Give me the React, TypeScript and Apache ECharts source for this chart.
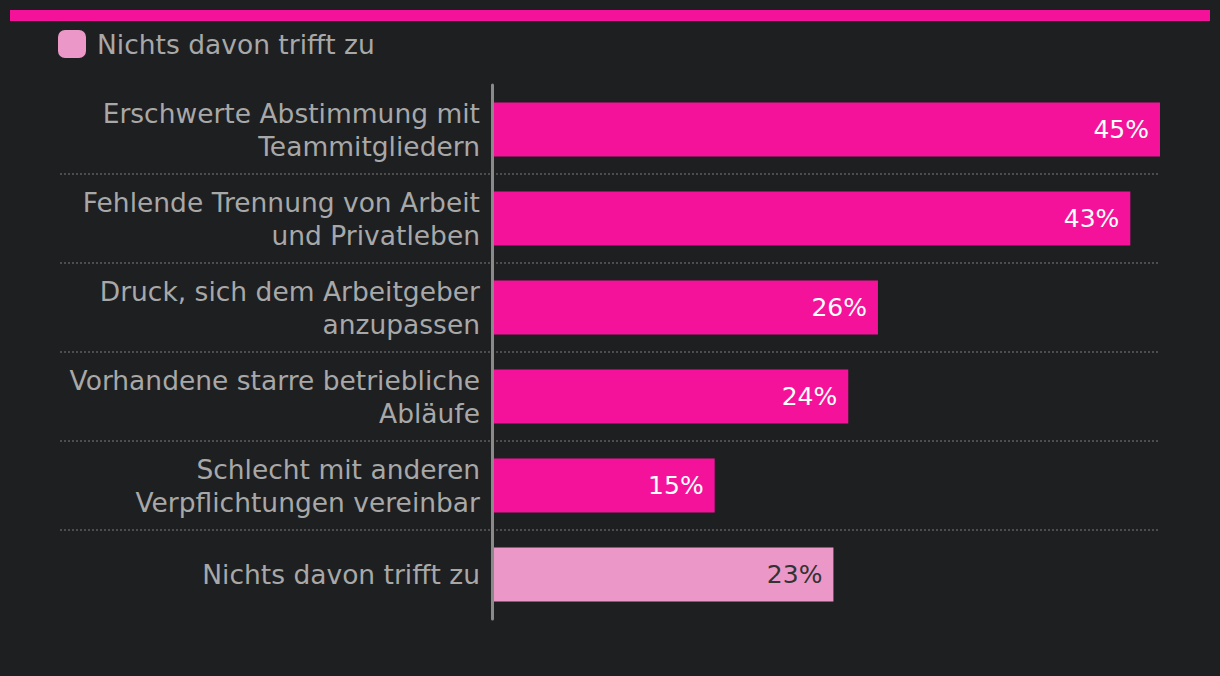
import React, { useEffect, useRef } from "react";
import * as echarts from "echarts";

const categories = [
  "Erschwerte Abstimmung mit\nTeammitgliedern",
  "Fehlende Trennung von Arbeit\nund Privatleben",
  "Druck, sich dem Arbeitgeber\nanzupassen",
  "Vorhandene starre betriebliche\nAbläufe",
  "Schlecht mit anderen\nVerpflichtungen vereinbar",
  "Nichts davon trifft zu",
];
const mainValues: (number | string)[] = [45, 43, 26, 24, 15, "-"];
const noneValues: (number | string)[] = ["-", "-", "-", "-", "-", 23];
const noneName = "Nichts davon trifft zu";
// boundaries between consecutive categories (for the dotted dividers)
const dividers = ["1", "2", "3", "4", "5"];

const FONT = "'DejaVu Sans', 'Noto Sans', sans-serif";
const PINK = "#f5129a";
const LIGHT = "#eb98c9";

export default function App() {
  const ref = useRef<HTMLDivElement>(null);
  useEffect(() => {
    const chart = echarts.init(ref.current!, null, { renderer: "svg" });
    const top = 85;
    const height = 534;
    const band = height / categories.length;
    chart.setOption({
      animation: false,
      backgroundColor: "#1e1f21",
      textStyle: { fontFamily: FONT },
      graphic: [
        { type: "rect", shape: { x: 10, y: 10, width: 1200, height: 11 }, style: { fill: PINK } },
      ],
      legend: {
        data: [noneName],
        left: 53,
        top: 25,
        itemWidth: 28,
        itemHeight: 28,
        itemGap: 10,
        icon: "roundRect",
        textStyle: {
          color: "#a8a8a8",
          fontSize: 26.5,
          fontFamily: FONT,
          padding: [0, 0, 0, 6],
        },
      },
      grid: [
        { left: 492, right: 60, top, height },
        { left: 60, right: 60, top: top + band, height: band * (dividers.length - 1) },
      ],
      xAxis: [
        { gridIndex: 0, type: "value", min: 0, max: 45, show: false },
        { gridIndex: 1, type: "value", min: 0, max: 45, show: false },
      ],
      yAxis: [
        {
          gridIndex: 0,
          type: "category",
          data: categories,
          inverse: true,
          offset: 2.5,
          z: 5,
          axisLine: { show: true, lineStyle: { color: "#8a8a8a", width: 3 } },
          axisTick: { show: false },
          splitLine: { show: false },
          axisLabel: {
            color: "#a8a8a8",
            fontSize: 26.5,
            lineHeight: 33,
            margin: 9.5,
            align: "right",
            fontFamily: FONT,
          },
        },
        {
          gridIndex: 1,
          type: "category",
          data: dividers,
          boundaryGap: false,
          inverse: true,
          axisLine: { show: false },
          axisTick: { show: false },
          axisLabel: { show: false },
          splitLine: {
            show: true,
            interval: 0,
            lineStyle: { color: "#5e5e5e", type: [2, 2], width: 1.5 },
          },
        },
      ],
      series: [
        {
          type: "bar",
          name: "main",
          stack: "s",
          xAxisIndex: 0,
          yAxisIndex: 0,
          data: mainValues,
          barWidth: 54,
          itemStyle: { color: PINK },
          label: {
            show: true,
            position: "insideRight",
            distance: 11,
            color: "#ffffff",
            fontSize: 25,
            fontFamily: FONT,
            formatter: "{c}%",
          },
        },
        {
          type: "bar",
          name: noneName,
          stack: "s",
          xAxisIndex: 0,
          yAxisIndex: 0,
          data: noneValues,
          barWidth: 54,
          itemStyle: { color: LIGHT },
          label: {
            show: true,
            position: "insideRight",
            distance: 11,
            color: "#333333",
            fontSize: 25,
            fontFamily: FONT,
            formatter: "{c}%",
          },
        },
      ],
    });
    return () => chart.dispose();
  }, []);
  return (
    <div
      ref={ref}
      style={{ position: "absolute", left: 0, top: 0, width: 1220, height: 676 }}
    />
  );
}
